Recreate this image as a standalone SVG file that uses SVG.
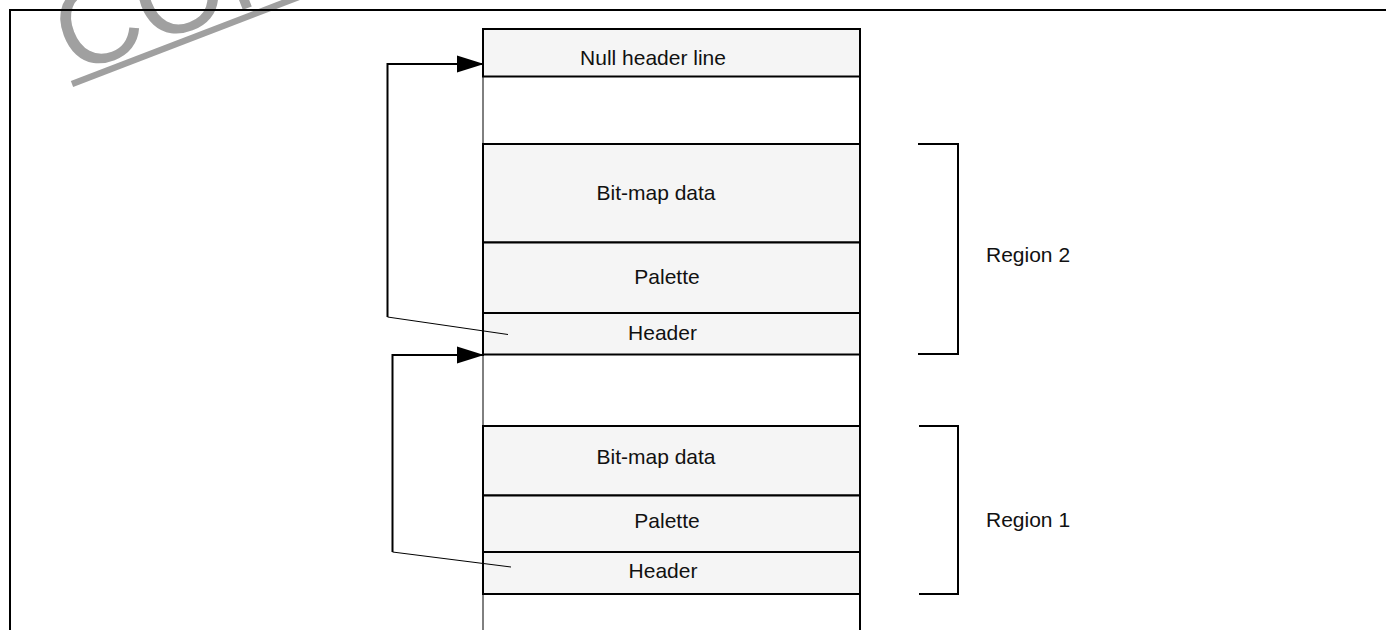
<svg xmlns="http://www.w3.org/2000/svg" width="1386" height="630" viewBox="0 0 1386 630">
<style>
  .row { fill: #f5f5f5; stroke: #000; stroke-width: 2; }
  .lbl { font-family: "Liberation Sans", Arial, sans-serif; font-size: 21px; fill: #111; text-anchor: middle; }
  .rlbl { font-family: "Liberation Sans", Arial, sans-serif; font-size: 21px; fill: #111; }
  .thick { fill: none; stroke: #000; stroke-width: 2; }
  .thin { fill: none; stroke: #000; stroke-width: 1; }
  .wm { font-family: "Liberation Sans", Arial, sans-serif; font-size: 115px; fill: #a0a0a0; }
</style>
<defs>
  <marker id="ah" markerUnits="userSpaceOnUse" markerWidth="28" markerHeight="18" refX="27" refY="9" orient="auto">
    <path d="M0,0.5 L27,9 L0,17.5 Z" fill="#000"/>
  </marker>
</defs>
<rect x="0" y="0" width="1386" height="630" fill="#fff"/>

<g id="watermark" transform="rotate(-21 72 84)">
  <text class="wm" x="76" y="76">CON</text>
  <line x1="72" y1="84" x2="360" y2="84" stroke="#a0a0a0" stroke-width="6.5"/>
</g>

<g id="frame">
  <line x1="9" y1="10" x2="1386" y2="10" class="thick"/>
  <line x1="10" y1="9" x2="10" y2="630" class="thick"/>
</g>

<g id="column">
  <line x1="483" y1="29" x2="483" y2="630" class="thin"/>
  <line x1="860" y1="29" x2="860" y2="630" class="thick"/>
</g>

<g id="null-header">
  <rect class="row" x="483" y="29" width="377" height="47.5"/>
  <text class="lbl" x="653" y="65">Null header line</text>
</g>
<g id="bitmap2">
  <rect class="row" x="483" y="144" width="377" height="98.5"/>
  <text class="lbl" x="656" y="200">Bit-map data</text>
</g>
<g id="palette2">
  <rect class="row" x="483" y="242.5" width="377" height="70.5"/>
  <text class="lbl" x="667" y="284">Palette</text>
</g>
<g id="header2">
  <rect class="row" x="483" y="313" width="377" height="41.5"/>
  <text class="lbl" x="662.5" y="340">Header</text>
</g>
<g id="bitmap1">
  <rect class="row" x="483" y="426" width="377" height="69.5"/>
  <text class="lbl" x="656" y="464">Bit-map data</text>
</g>
<g id="palette1">
  <rect class="row" x="483" y="495.5" width="377" height="56.5"/>
  <text class="lbl" x="667" y="528">Palette</text>
</g>
<g id="header1">
  <rect class="row" x="483" y="552" width="377" height="42"/>
  <text class="lbl" x="663" y="578">Header</text>
</g>

<g id="region2">
  <polyline class="thick" points="918,144 958,144 958,354 918,354"/>
  <text class="rlbl" x="986" y="262">Region 2</text>
</g>
<g id="region1">
  <polyline class="thick" points="919,426 958,426 958,594 919,594"/>
  <text class="rlbl" x="986" y="527">Region 1</text>
</g>

<g id="connectors">
  <line class="thin" x1="508" y1="334.5" x2="387.5" y2="317"/>
  <polyline class="thick" points="387.5,317 387.5,64 484,64" marker-end="url(#ah)"/>
  <line class="thin" x1="511" y1="567" x2="392.5" y2="552"/>
  <polyline class="thick" points="392.5,552 392.5,355 484,355" marker-end="url(#ah)"/>
</g>
</svg>
